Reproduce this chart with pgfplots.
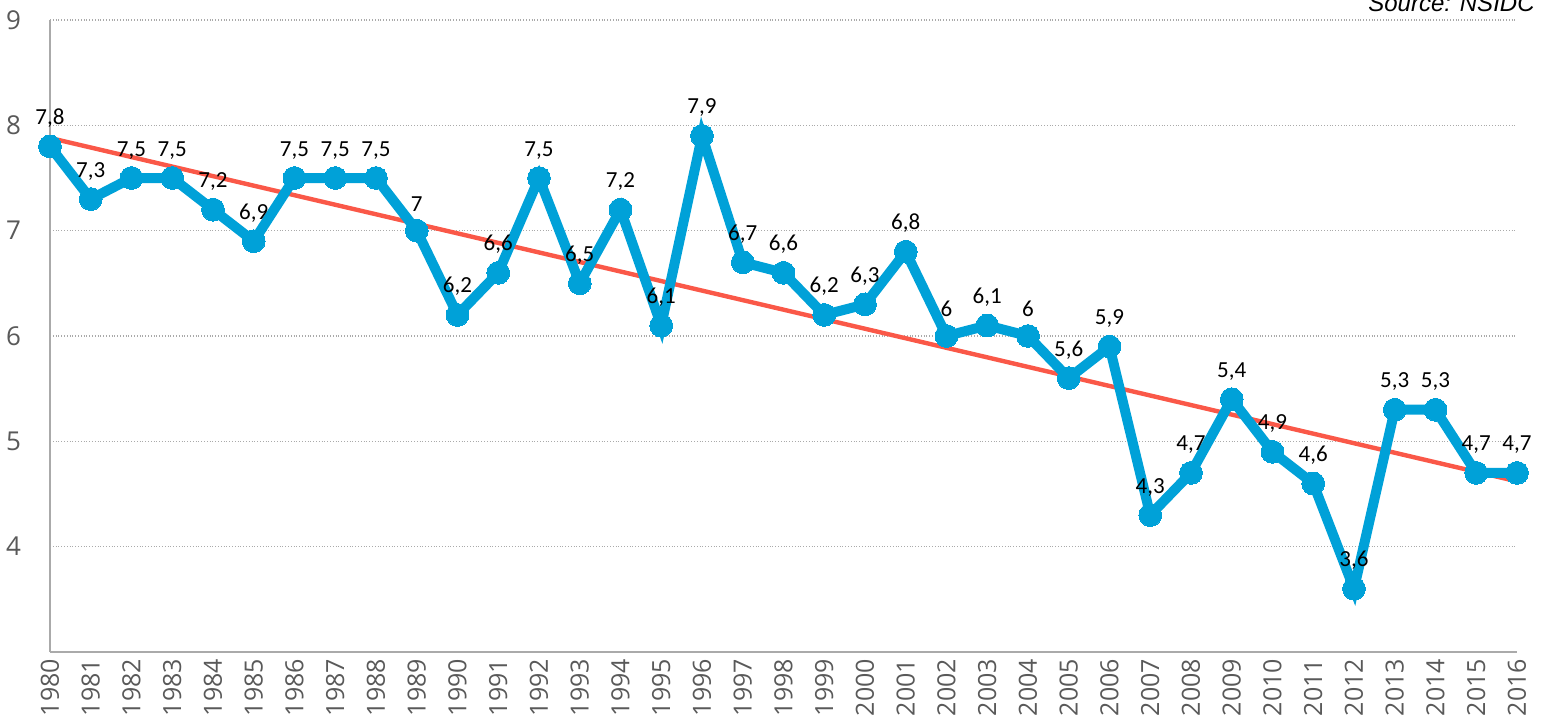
\documentclass[border=0pt]{standalone}
\usepackage{pgfplots}
\pgfplotsset{compat=1.18}
\usepackage{fontspec}
\setmainfont{Open Sans}
\newfontfamily\carlito{Carlito}
\newfontfamily\arialfont{Liberation Sans}
\usetikzlibrary{calc}
\definecolor{iceblue}{RGB}{0,161,216}
\definecolor{trendred}{RGB}{250,88,72}
\definecolor{txtgray}{RGB}{89,89,89}
\definecolor{axgray}{RGB}{170,170,170}
\pgfplotstableread{
year val
1980 7.8
1981 7.3
1982 7.5
1983 7.5
1984 7.2
1985 6.9
1986 7.5
1987 7.5
1988 7.5
1989 7.0
1990 6.2
1991 6.6
1992 7.5
1993 6.5
1994 7.2
1995 6.1
1996 7.9
1997 6.7
1998 6.6
1999 6.2
2000 6.3
2001 6.8
2002 6.0
2003 6.1
2004 6.0
2005 5.6
2006 5.9
2007 4.3
2008 4.7
2009 5.4
2010 4.9
2011 4.6
2012 3.6
2013 5.3
2014 5.3
2015 4.7
2016 4.7
}\icedata
\begin{document}
\begin{tikzpicture}
\begin{axis}[
  scale only axis,
  width=733.5pt, height=316pt,
  xmin=1980, xmax=2016,
  ymin=3, ymax=9,
  xtick={1980,...,2016},
  ytick={4,...,9},
  axis x line*=bottom,
  axis y line*=left,
  axis line style={axgray, line width=0.8pt},
  every outer x axis line/.append style={-},
  every outer y axis line/.append style={-},
  tick style={draw=none},
  major tick length=0pt,
  ymajorgrids,
  grid style={densely dotted, axgray, line width=0.6pt},
  x tick label style={rotate=90, anchor=east, font=\fontsize{12.5}{14}\selectfont, text=txtgray, /pgf/number format/1000 sep={}},
  y tick label style={font=\fontsize{13}{14}\selectfont, text=txtgray, xshift=-11pt},
  xticklabel={\pgfmathprintnumber[1000 sep={}]{\tick}},
  /pgf/number format/assume math mode=true,
  xtick pos=bottom,
  clip=false,
]
\addplot[trendred, line width=2.2pt] coordinates {(1980,7.88) (2016,4.62)};
\addplot[iceblue, line width=5pt, mark=*, mark size=5.7pt,
  mark options={fill=iceblue, draw=iceblue, line width=0pt},
  nodes near coords,
  point meta=y,
  every node near coord/.style={anchor=south, inner sep=1pt, yshift=8.5pt,
     font=\carlito\fontsize{11.5}{12}\selectfont, text=black,
     /pgf/number format/.cd, use comma, 1000 sep={}, precision=1, assume math mode=true},
] table[x=year, y=val] {\icedata};
\node[anchor=base east, font=\arialfont\itshape\fontsize{12}{14}\selectfont, text=black, inner sep=0pt]
  at ($(rel axis cs:1,1)+(9pt,4.5pt)$) {Source: NSIDC};
\end{axis}
\pgfresetboundingbox
\path[use as bounding box] ($(current axis.south west)+(-25pt,-35pt)$) rectangle ($(current axis.north east)+(15pt,10pt)$);
\end{tikzpicture}
\end{document}
